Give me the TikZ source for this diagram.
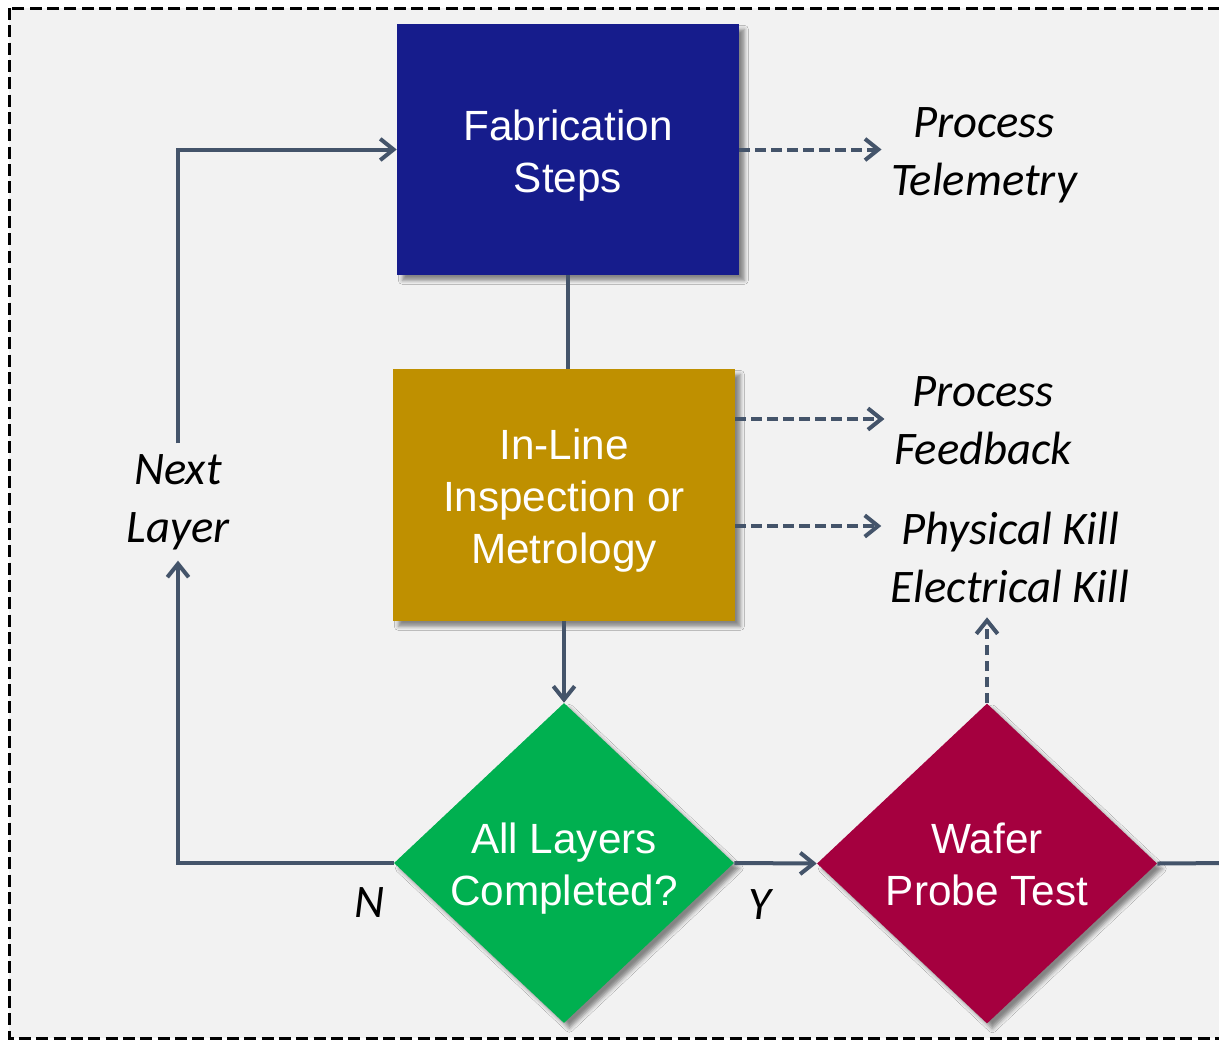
\documentclass[tikz,border=0pt]{standalone}
\usepackage{fontspec}
\setmainfont{Liberation Sans}
\newfontfamily\labelfont{Carlito}
\usetikzlibrary{shapes.geometric,arrows.meta,shadows.blur}
\definecolor{bgpanel}{HTML}{F2F2F2}
\definecolor{fabblue}{HTML}{161C8C}
\definecolor{inspgold}{HTML}{BF9000}
\definecolor{donegreen}{HTML}{00B050}
\definecolor{probered}{HTML}{A5003F}
\definecolor{slate}{HTML}{44546A}
\begin{document}
\begin{tikzpicture}[x=0.75pt,y=-0.75pt,
  softshadow/.style={blur shadow={shadow xshift=4pt, shadow yshift=-4pt,
      shadow blur radius=3pt, shadow opacity=45}},
  box/.style={rectangle, inner sep=0pt, minimum width=256.5pt, softshadow},
  decision/.style={diamond, inner sep=0pt, minimum width=255pt,
      minimum height=240pt, softshadow},
  intext/.style={text=white, align=center, yshift=-4.5pt,
      font=\fontsize{31.7}{39}\selectfont},
  note/.style={align=center, inner sep=7pt,
      font=\labelfont\itshape\fontsize{35}{43.5}\selectfont},
  link/.style={draw=slate, line width=3pt},
  arr/.style={link, -{Straight Barb[length=10pt,width=16pt]}},
  dsh/.style={arr, dash pattern=on 8pt off 4pt}]

\useasboundingbox (0,0) rectangle (1219,1042);
\clip (0,0) rectangle (1219,1042);
\fill[white] (0,0) rectangle (1219,1042);

% panel with dashed frame (runs off the right edge)
\fill[bgpanel] (9,8) rectangle (1240,1038);
\draw[black, line width=2.25pt, dash pattern=on 9pt off 4pt] (9,8) rectangle (1240,1038);

% process blocks
\node[box, fill=fabblue, minimum height=188.25pt] (fab) at (568,149.5) {};
\node[intext] (fabtxt) at (fab) {Fabrication\\Steps};
\node[box, fill=inspgold, minimum height=189pt] (inl) at (564,495) {};
\node[intext] (inltxt) at (inl) {In-Line\\Inspection or\\Metrology};

% decisions
\node[decision, fill=donegreen] (done) at (564,863) {};
\node[intext] (donetxt) at (done) {All Layers\\Completed?};
\node[decision, fill=probered] (probe) at (987,863.5) {};
\node[intext, yshift=4pt] (probetxt) at (probe) {Wafer\\Probe Test};

% side labels
\node[note] (telem) at (984,155) {Process\\Telemetry};
\node[note] (fb) at (983,421) {Process\\Feedback};
\node[note] (kill) at (1010,557) {Physical Kill\\Electrical Kill};
\node[note, inner sep=8pt] (next) at (178,502) {Next\\Layer};
\node[note] (nlab) at (370,903) {N};
\node[note] (ylab) at (760,905) {Y};
\coordinate (exit) at (1230,863);
\path ([yshift=-4pt]kill.south) coordinate (killfoot);

% main flow
\draw[link] (fab.south) -- (fab.south |- inl.north);
\draw[arr] (inl.south) -- (done.north);
\draw[arr] (done.east) -- (probe.west);
\draw[link] (probe.east) -- (exit);

% loop back to the next layer
\draw[arr] (done.west) -| (next.south);
\draw[arr] (next.north) |- (fab.west);

% data outputs
\draw[dsh] (fab.east) -- (telem.west |- fab.east);
\draw[dsh] ([yshift=57pt]inl.east) -- ([yshift=57pt]inl.east -| fb.west);
\draw[dsh] ([yshift=-23.25pt]inl.east) -- ([yshift=-23.25pt]inl.east -| kill.west);
\draw[dsh] (probe.north) -- (probe.north |- killfoot);
\end{tikzpicture}
\end{document}
